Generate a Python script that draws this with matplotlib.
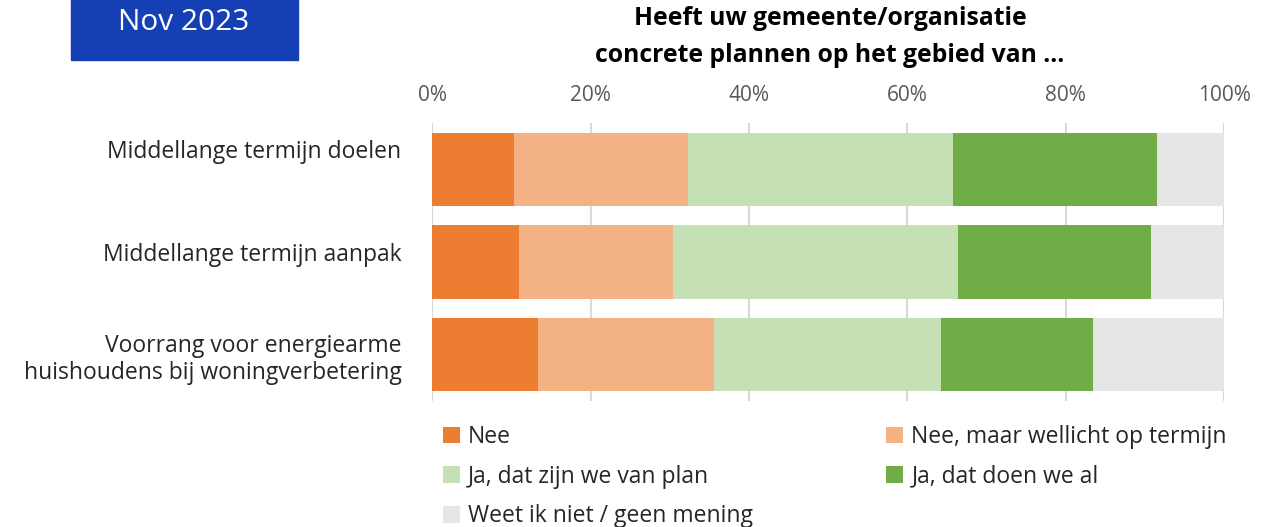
import numpy as np
import matplotlib
matplotlib.use("Agg")
from matplotlib import pyplot as plt
from matplotlib.transforms import ScaledTranslation

# data (percent of respondents)
categories = ["Middellange termijn doelen",
              "Middellange termijn aanpak",
              "Voorrang voor energiearme\nhuishoudens bij woningverbetering"]
series_names = ["Nee",
                "Nee, maar wellicht op termijn",
                "Ja, dat zijn we van plan",
                "Ja, dat doen we al",
                "Weet ik niet / geen mening"]
nee = [10.4, 11.0, 13.4]
nee_misschien = [21.9, 19.4, 22.2]
ja_plan = [33.5, 36.0, 28.7]
ja_al = [25.7, 24.4, 19.1]
weet_niet = [8.5, 9.2, 16.6]
colors = ["#ED7D31", "#F4B183", "#C5E0B4", "#70AD47", "#E6E6E6"]
xticks = [0, 20, 40, 60, 80, 100]

plt.rcParams['font.family'] = ['Open Sans', 'DejaVu Sans']

fig = plt.figure(figsize=(12.76, 5.27), dpi=100)
ax = fig.add_axes([0.3386, 0.2391, 0.6209, 0.5275])

values = [nee, nee_misschien, ja_plan, ja_al, weet_niet]
y = np.arange(len(categories))
left = np.zeros(len(categories))
handles = []
for name, vals, col in zip(series_names, values, colors):
    b = ax.barh(y, vals, left=left, height=0.79, color=col, label=name, zorder=2)
    handles.append(b)
    left += np.array(vals)

ax.set_xlim(0, 100)
ax.set_ylim(2.5, -0.5)
ax.set_xticks(xticks)
ax.set_xticklabels([f"{t}%" for t in xticks])
ax.xaxis.tick_top()
ax.tick_params(axis='x', length=0, pad=12, labelsize=15, labelcolor="#595959")
ax.tick_params(axis='y', length=0, pad=22, labelsize=16.5, labelcolor="#262626")
ax.set_yticks(y)
ax.set_yticklabels(categories, ha='right')
# the category labels sit a little above the bar centres (as in the original)
label_shift = [0.20, 0.10, 0.0]  # inches
for lab, dy in zip(ax.get_yticklabels(), label_shift):
    lab.set_multialignment('right')
    lab.set_transform(lab.get_transform() + ScaledTranslation(0, dy, fig.dpi_scale_trans))
ax.grid(axis='x', color="#D9D9D9", linewidth=1.5, zorder=0)
for s in ax.spines.values():
    s.set_visible(False)

fig.text(830 / 1276, 0.988, "Heeft uw gemeente/organisatie\nconcrete plannen op het gebied van ...",
         ha='center', va='top', fontsize=17.8, fontweight='bold', color="#000000",
         linespacing=1.62)

# date badge
fig.patches.append(plt.Rectangle((71 / 1276, 1 - 60 / 527), 227 / 1276, 60 / 527,
                                 transform=fig.transFigure, color="#143FB5", zorder=0))
fig.text(184 / 1276, 1 - 22 / 527, "Nov 2023", ha='center', va='center',
         fontsize=21.5, color="white")

order = [0, 2, 4, 1, 3]
leg = fig.legend([handles[i] for i in order], [series_names[i] for i in order],
                 ncol=2, loc='upper left', bbox_to_anchor=(443 / 1276, 1 - 425 / 527),
                 frameon=False, handlelength=0.75, handleheight=0.75,
                 handletextpad=0.35, columnspacing=5.8, labelspacing=0.68,
                 borderaxespad=0, borderpad=0,
                 prop={'size': 16.5})
for t in leg.get_texts():
    t.set_color("#262626")

fig.savefig("out.png", dpi=100)
